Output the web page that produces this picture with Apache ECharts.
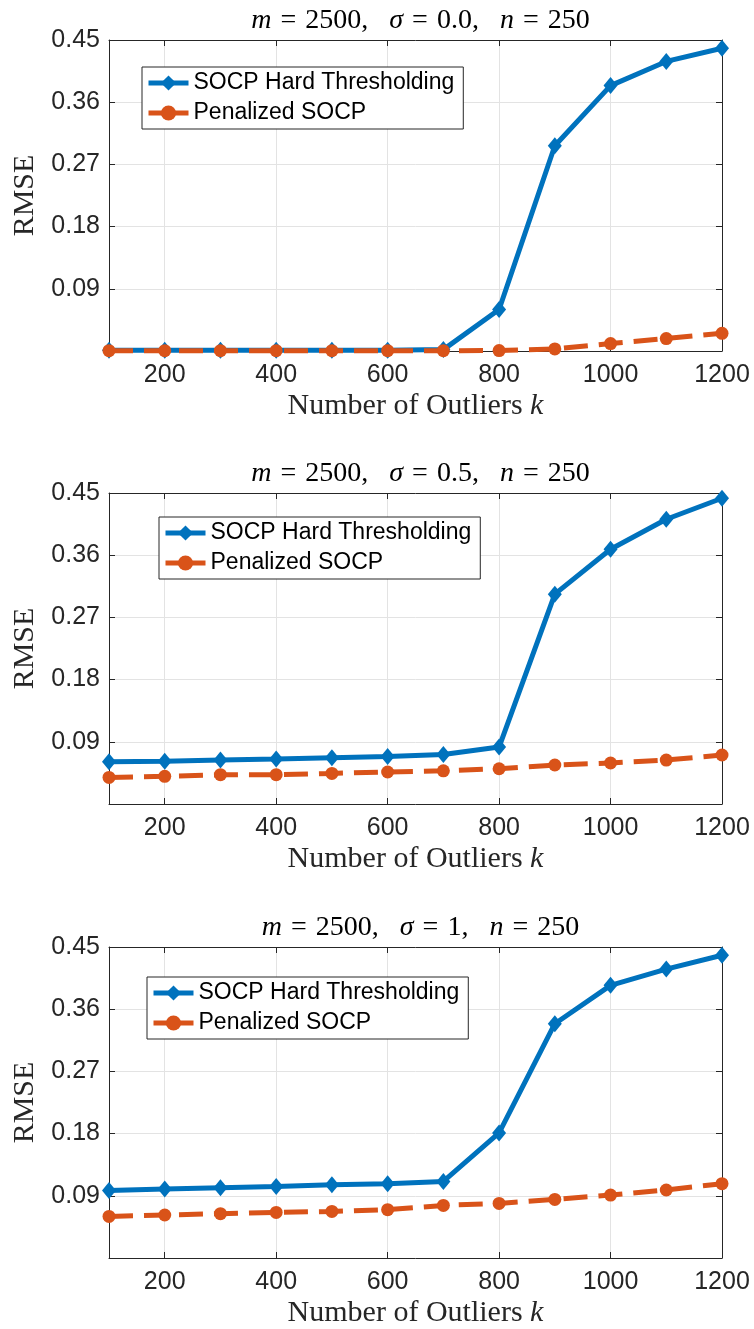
<!DOCTYPE html>
<html>
<head>
<meta charset="utf-8">
<script src="https://cdn.jsdelivr.net/npm/echarts@6/dist/echarts.min.js"></script>
<style>
html,body{margin:0;padding:0;background:#fff;}
#chart{width:754px;height:1329px;}
</style>
</head>
<body>
<div id="chart"></div>
<script>
// ---- data ----
const ks = [100, 200, 300, 400, 500, 600, 700, 800, 900, 1000, 1100, 1200];
const xTicks = [200, 400, 600, 800, 1000, 1200];
const yTicks = [0.09, 0.18, 0.27, 0.36, 0.45];
const seriesNames = ['SOCP Hard Thresholding', 'Penalized SOCP'];
const sigmaLabels = ['0.0', '0.5', '1'];

const hard0 = [0.001, 0.001, 0.001, 0.001, 0.001, 0.0012, 0.002, 0.060, 0.297, 0.384, 0.419, 0.438];
const pen0  = [0.0005, 0.0005, 0.0005, 0.0005, 0.0005, 0.0005, 0.0005, 0.0006, 0.003, 0.0107, 0.018, 0.0256];

const hard05 = [0.0612, 0.0617, 0.0636, 0.065, 0.067, 0.0688, 0.0717, 0.0824, 0.3036, 0.3687, 0.412, 0.4424];
const pen05  = [0.0385, 0.040, 0.0424, 0.0424, 0.0443, 0.0463, 0.048, 0.051, 0.0564, 0.0593, 0.0636, 0.0709];

const hard1 = [0.0978, 0.0998, 0.1017, 0.1036, 0.106, 0.1075, 0.1108, 0.181, 0.339, 0.3945, 0.418, 0.438];
const pen1  = [0.0602, 0.0622, 0.0641, 0.066, 0.0674, 0.0699, 0.0761, 0.079, 0.0848, 0.0911, 0.0984, 0.1075];

const panels = [
  {hard: hard0, pen: pen0},
  {hard: hard05, pen: pen05},
  {hard: hard1, pen: pen1}
];

// ---- layout ----
const gridTops = [40, 493, 947];
const gridH = 311;
const gridLeft = 109;
const gridW = 613;
const legendPos = [[142, 67], [159, 517], [147, 977]];

const AX = '#262626';
const BLUE = '#0072BD';
const ORANGE = '#D95319';
const SANS = '"Liberation Sans", Arial, Helvetica, sans-serif';
const SERIF = '"Liberation Serif", "Times New Roman", serif';

const chart = echarts.init(document.getElementById('chart'), null, {renderer: 'canvas'});

const grid = [], xAxis = [], yAxis = [], series = [], legend = [], title = [];

panels.forEach((p, g) => {
  grid.push({left: gridLeft, top: gridTops[g], width: gridW, height: gridH, containLabel: false});
  // bottom x axis
  xAxis.push({
    type: 'value', gridIndex: g, min: 100, max: 1200, position: 'bottom',
    name: '{r|Number of Outliers }{i|k}', nameLocation: 'middle', nameGap: 40,
    nameTextStyle: {rich: {
      r: {fontFamily: SERIF, fontSize: 30, color: AX},
      i: {fontFamily: SERIF, fontSize: 30, fontStyle: 'italic', color: AX}
    }},
    axisLine: {show: true, onZero: false, lineStyle: {color: AX, width: 1}},
    axisTick: {show: true, inside: true, length: 6, customValues: xTicks, lineStyle: {color: AX}},
    axisLabel: {show: true, customValues: xTicks, margin: 12, fontFamily: SANS, fontSize: 25, color: AX,
      formatter: v => String(Math.round(v))},
    splitLine: {show: true, lineStyle: {color: '#e3e3e3', width: 1}}
  });
  // top x axis (box)
  xAxis.push({
    type: 'value', gridIndex: g, min: 100, max: 1200, position: 'top',
    axisLine: {show: true, onZero: false, lineStyle: {color: AX, width: 1}},
    axisTick: {show: true, inside: true, length: 6, customValues: xTicks, lineStyle: {color: AX}},
    axisLabel: {show: false},
    splitLine: {show: false}
  });
  yAxis.push({
    type: 'value', gridIndex: g, min: 0, max: 0.45, interval: 0.09, position: 'left',
    name: 'RMSE', nameLocation: 'middle', nameGap: 66, nameRotate: 90,
    nameTextStyle: {fontFamily: SERIF, fontSize: 30, color: AX},
    axisLine: {show: true, onZero: false, lineStyle: {color: AX, width: 1}},
    axisTick: {show: true, inside: true, length: 6, lineStyle: {color: AX}},
    axisLabel: {show: true, margin: 9, fontFamily: SANS, fontSize: 25, color: AX,
      formatter: v => (v < 1e-9 ? '' : v.toFixed(2))},
    splitLine: {show: true, lineStyle: {color: '#e3e3e3', width: 1}}
  });
  yAxis.push({
    type: 'value', gridIndex: g, min: 0, max: 0.45, interval: 0.09, position: 'right',
    axisLine: {show: true, onZero: false, lineStyle: {color: AX, width: 1}},
    axisTick: {show: true, inside: true, length: 6, lineStyle: {color: AX}},
    axisLabel: {show: false},
    splitLine: {show: false}
  });

  series.push({
    name: seriesNames[0], type: 'line', xAxisIndex: 2 * g, yAxisIndex: 2 * g,
    data: ks.map((k, i) => [k, p.hard[i]]),
    symbol: 'diamond', symbolSize: [14, 17], clip: false,
    lineStyle: {color: BLUE, width: 5},
    itemStyle: {color: BLUE, borderWidth: 0},
    emphasis: {disabled: true}, animation: false, z: 2
  });
  series.push({
    name: seriesNames[1], type: 'line', xAxisIndex: 2 * g, yAxisIndex: 2 * g,
    data: ks.map((k, i) => [k, p.pen[i]]),
    symbol: 'circle', symbolSize: 13, clip: false,
    lineStyle: {color: ORANGE, width: 5, type: [24, 11]},
    itemStyle: {color: ORANGE, borderWidth: 0},
    emphasis: {disabled: true}, animation: false, z: 3
  });

  legend.push({
    show: true, orient: 'vertical', left: legendPos[g][0], top: legendPos[g][1],
    data: [
      {name: seriesNames[0], lineStyle: {width: 5}},
      {name: seriesNames[1], lineStyle: {type: 'solid', width: 5}}
    ],
    itemWidth: 40, itemHeight: 19, itemGap: 4,
    padding: [3, 9, 3, 4],
    backgroundColor: '#fff', borderColor: AX, borderWidth: 1, borderRadius: 0,
    textStyle: {fontFamily: SANS, fontSize: 23, color: '#000', lineHeight: 26},
    selectedMode: false
  });

  title.push({
    text: '{i|m}{e|=}2500,   {i|σ}{e|=}' + sigmaLabels[g] + ',   {i|n}{e|=}250',
    left: gridLeft + gridW / 2, top: gridTops[g] - 38, textAlign: 'center',
    textStyle: {
      fontFamily: SERIF, fontSize: 28, fontWeight: 'normal', color: '#000',
      rich: {
        i: {fontFamily: SERIF, fontSize: 28, fontStyle: 'italic', color: '#000'},
        e: {fontFamily: SERIF, fontSize: 28, color: '#000', padding: [0, 9, 0, 9]}
      }
    }
  });
});

chart.setOption({
  animation: false,
  backgroundColor: '#fff',
  title, grid, xAxis, yAxis, series, legend
});
</script>
</body>
</html>
